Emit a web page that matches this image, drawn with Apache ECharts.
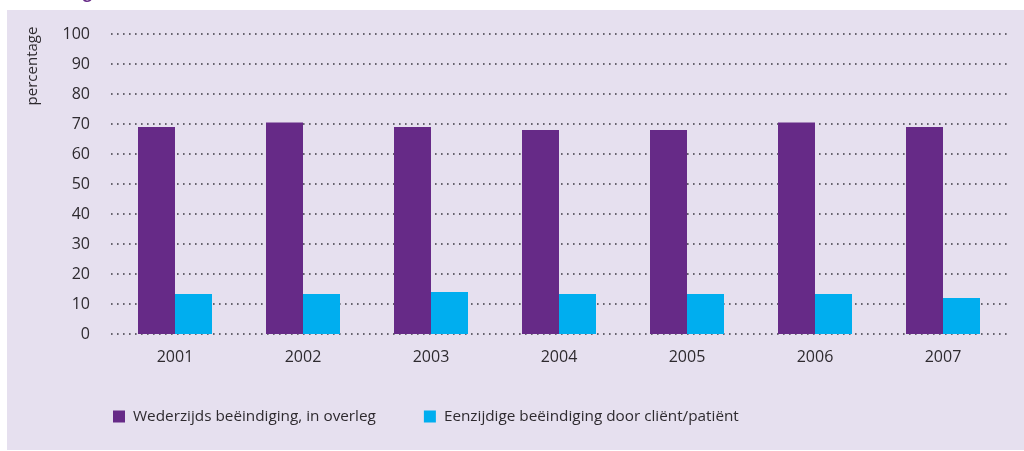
<!DOCTYPE html>
<html>
<head>
<meta charset="utf-8">
<script src="https://cdn.jsdelivr.net/npm/echarts@6/dist/echarts.min.js"></script>
<style>
  html, body { margin: 0; padding: 0; background: #ffffff; }
  #chart { width: 1024px; height: 451px; }
</style>
</head>
<body>
<div id="chart"></div>
<script>
// jaren
const years = ["2001", "2002", "2003", "2004", "2005", "2006", "2007"];
// percentages per soort beëindiging
const wederzijds = [69, 70.5, 69, 68, 68, 70.5, 69];
const eenzijdig = [13.3, 13.3, 14, 13.3, 13.3, 13.3, 12];
const seriesNames = ["Wederzijds beëindiging, in overleg", "Eenzijdige beëindiging door cliënt/patiënt"];
const yTicks = [0, 10, 20, 30, 40, 50, 60, 70, 80, 90, 100];

const textColor = "#2e2a2f";
const fontFamily = "'Open Sans', 'Noto Sans', sans-serif";

let myChart = echarts.init(document.getElementById("chart"), null, { renderer: "canvas" });

myChart.setOption({
  animation: false,
  backgroundColor: "#ffffff",
  graphic: [
    {
      type: "rect",
      silent: true,
      z: -10,
      shape: { x: 7, y: 10, width: 1017, height: 440 },
      style: { fill: "#e6e0ef" }
    },
    {
      type: "text",
      silent: true,
      x: 83,
      y: -15,
      style: { text: "g", fill: "#662a87", font: "bold 16px " + fontFamily }
    },
    {
      type: "text",
      silent: true,
      x: 33,
      y: 66,
      rotation: Math.PI / 2,
      style: {
        text: "percentage",
        fill: textColor,
        font: "15px " + fontFamily,
        align: "center",
        verticalAlign: "middle"
      }
    }
  ],
  legend: {
    left: 108,
    top: 404,
    itemWidth: 12,
    itemHeight: 12,
    itemGap: 48,
    icon: "rect",
    textStyle: { color: textColor, fontSize: 15.3, fontFamily: fontFamily, padding: [0, 0, 0, 3] },
    data: seriesNames
  },
  grid: { left: 111, right: 17, top: 34, bottom: 117, containLabel: false },
  xAxis: {
    type: "category",
    data: years,
    axisLine: { show: false },
    axisTick: { show: false },
    axisLabel: { color: textColor, fontSize: 16, fontFamily: fontFamily, margin: 15 }
  },
  yAxis: {
    type: "value",
    min: yTicks[0],
    max: yTicks[yTicks.length - 1],
    interval: 10,
    axisLine: { show: false },
    axisTick: { show: false },
    axisLabel: { color: textColor, fontSize: 16, fontFamily: fontFamily, margin: 21 },
    splitLine: { lineStyle: { color: "#3e3a44", width: 1.6, type: [1.6, 4.4] } }
  },
  series: [
    {
      name: seriesNames[0],
      type: "bar",
      data: wederzijds,
      barWidth: 37,
      barGap: "0%",
      itemStyle: { color: "#662a87" }
    },
    {
      name: seriesNames[1],
      type: "bar",
      data: eenzijdig,
      barWidth: 37,
      itemStyle: { color: "#00aeef" }
    }
  ]
});
</script>
</body>
</html>
